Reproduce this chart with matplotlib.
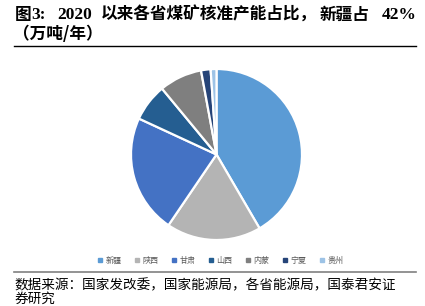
import matplotlib
matplotlib.use("Agg")
import matplotlib.pyplot as plt
from matplotlib.lines import Line2D

plt.rcParams['font.family'] = ['Noto Sans CJK SC', 'DejaVu Sans']

provinces = ['新疆', '陕西', '甘肃', '山西', '内蒙', '宁夏', '贵州']
shares = [41.6, 17.9, 22.4, 7.1, 8.1, 1.8, 1.1]
colors = ['#5B9BD5', '#B4B4B4', '#4472C4', '#255E91', '#7F7F7F', '#264478', '#9DC3E6']

# title pieces: (text, x-pixel, is_latin)
title_parts = [('图', 15, False), ('3:', 31, True), ('2020', 57, True),
               ('以来各省煤矿核准产能占比，', 101, False), ('新疆占', 320, False),
               ('42%', 382, True)]
title_line2 = '（万吨/年）'
source_text = '数据来源：国家发改委，国家能源局，各省能源局，国泰君安证'
source_text2 = '券研究'

fig = plt.figure(figsize=(4.25, 3.06), dpi=100)

W, H = 425, 306
cx, cy, r = 216.5, 154.5, 85.5
ax = fig.add_axes([(cx - r) / W, 1 - (cy + r) / H, 2 * r / W, 2 * r / H])
ax.pie(shares, colors=colors, startangle=90, counterclock=False,
       wedgeprops=dict(edgecolor='white', linewidth=1.6), radius=1.0)
ax.set_xlim(-1, 1)
ax.set_ylim(-1, 1)
ax.set_aspect('auto')
ax.axis('off')

handles = [Line2D([0], [0], marker='s', linestyle='none', markersize=2.5,
                  markerfacecolor=c, markeredgecolor=c) for c in colors]
fig.legend(handles, provinces, loc='center', bbox_to_anchor=(220 / W, 1 - 260 / H),
           ncol=7, frameon=False, fontsize=5.8, labelcolor='#595959',
           handlelength=0.8, handletextpad=0.3, columnspacing=1.5)

for txt, x, latin in title_parts:
    fam = ['Liberation Serif', 'DejaVu Serif'] if latin else ['Noto Sans CJK SC', 'DejaVu Sans']
    fs = 12.5 if latin else 12
    fig.text(x / W, 1 - 15 / H, txt, fontsize=fs, fontweight='bold', family=fam,
             ha='left', va='center', color='black')
fig.text(13 / W, 1 - 34 / H, title_line2, fontsize=12, fontweight='bold',
         ha='left', va='center', color='black')
fig.add_artist(Line2D([14 / W, 416 / W], [1 - 46 / H, 1 - 46 / H], color='black', linewidth=1.0))

fig.add_artist(Line2D([14 / W, 416 / W], [1 - 272 / H, 1 - 272 / H], color='#808080', linewidth=1.2))
fig.text(14 / W, 1 - 285 / H, source_text, fontsize=9.8, ha='left', va='center', color='black')
fig.text(14 / W, 1 - 299 / H, source_text2, fontsize=9.8, ha='left', va='center', color='black')

fig.savefig('out.png', dpi=100)
